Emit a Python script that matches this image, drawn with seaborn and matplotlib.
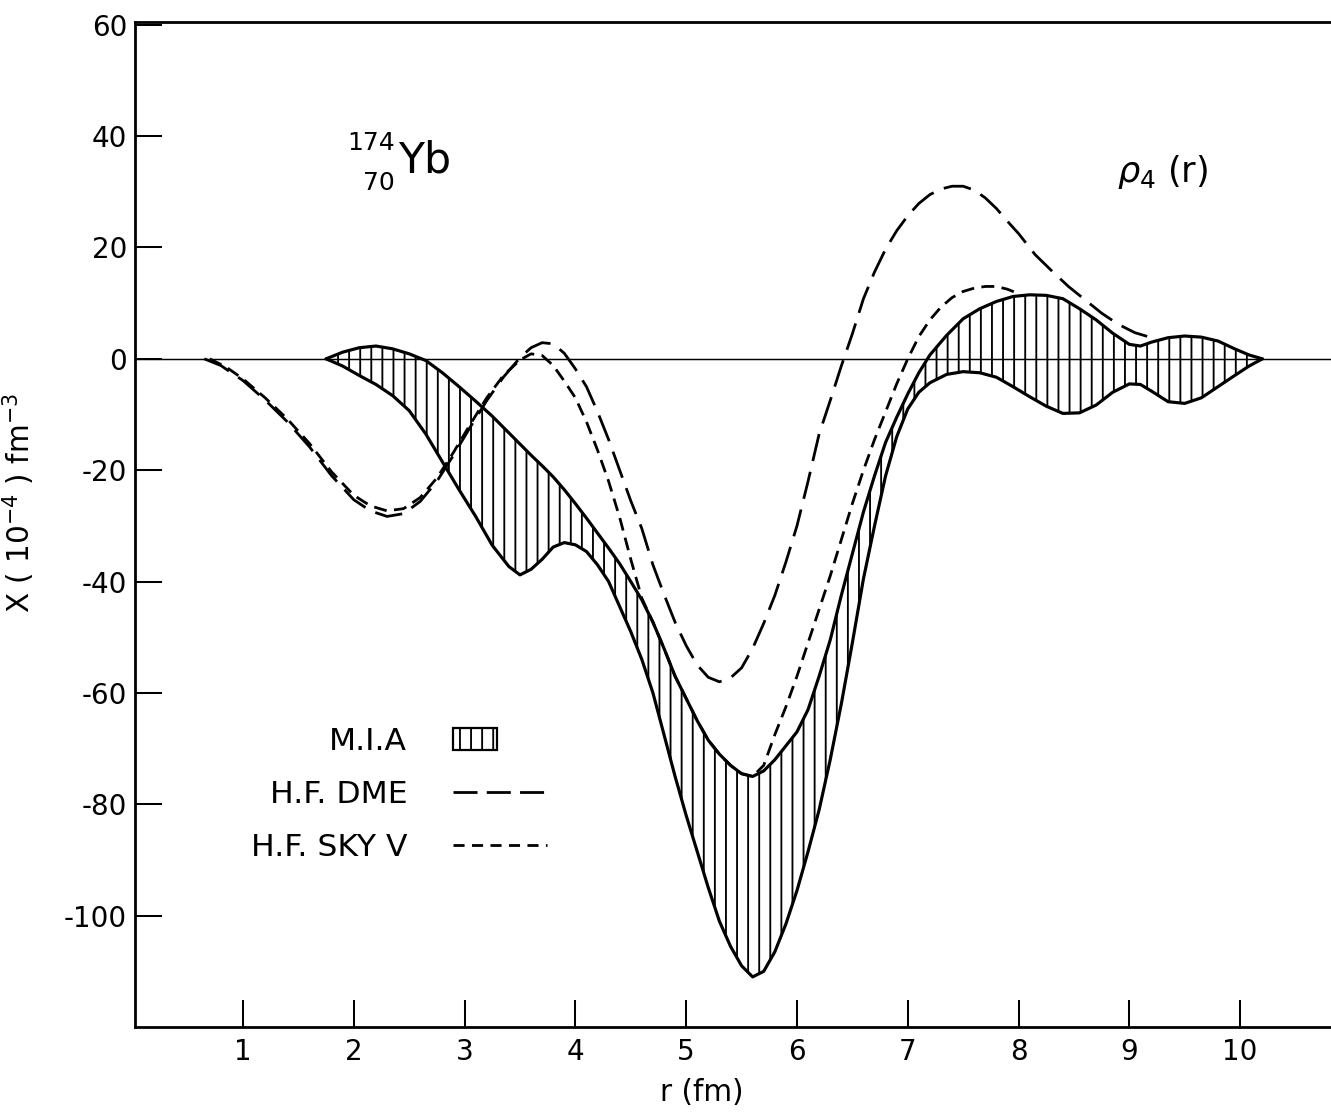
"""
Radial transition density rho_4(r) for 174Yb: M.I.A band vs H.F. DME and H.F. SKY V.
"""

import matplotlib
matplotlib.use("Agg")
import matplotlib.pyplot as plt
import matplotlib.patches as mpatches
from matplotlib.lines import Line2D
from matplotlib.legend_handler import HandlerPatch
import seaborn as sns

# M.I.A band: upper and lower edges on a shared r grid (fm), values in 1e-4 fm^-3
r_mia = [1.75, 1.9, 2.05, 2.2, 2.35, 2.5, 2.65, 2.8, 2.95, 3.1,
         3.25, 3.4, 3.5, 3.6, 3.7, 3.8, 3.9, 4.0, 4.1, 4.2,
         4.3, 4.4, 4.5, 4.6, 4.7, 4.8, 4.9, 5.0, 5.1, 5.2,
         5.3, 5.4, 5.5, 5.6, 5.7, 5.8, 5.9, 6.0, 6.1, 6.2,
         6.3, 6.4, 6.5, 6.6, 6.7, 6.8, 6.9, 7.0, 7.1, 7.2,
         7.35, 7.5, 7.65, 7.8, 7.95, 8.1, 8.25, 8.4, 8.55, 8.7,
         8.85, 9.0, 9.1, 9.2, 9.35, 9.5, 9.65, 9.8, 9.95, 10.08,
         10.2]
mia_upper = [0.0, 1.2, 2.0, 2.3, 1.8, 0.9, -0.3, -2.5, -5.0, -7.6,
             -10.3, -13.3, -15.3, -17.3, -19.2, -21.2, -23.5, -26.0, -28.6, -31.3,
             -34.0, -36.8, -40.0, -43.3, -47.3, -52.0, -57.0, -61.0, -65.0, -68.5,
             -71.0, -73.0, -74.5, -75.0, -74.0, -72.0, -69.5, -67.0, -63.0, -57.0,
             -50.5, -42.5, -35.0, -27.5, -21.0, -15.0, -10.5, -6.3, -2.5, 0.7,
             4.2, 7.2, 9.0, 10.3, 11.2, 11.5, 11.4, 10.8, 9.0, 7.0,
             4.6, 2.6, 2.3, 3.0, 3.8, 4.1, 3.9, 3.2, 1.8, 0.7,
             0.0]
mia_lower = [0.0, -1.3, -3.0, -4.6, -6.6, -9.3, -13.5, -18.5, -23.5, -28.3,
             -33.5, -37.3, -38.8, -37.8, -36.0, -33.8, -33.0, -33.4, -34.6, -37.0,
             -40.0, -44.5, -49.0, -54.0, -60.0, -67.5, -75.0, -82.0, -88.5, -95.0,
             -101.0, -105.5, -109.0, -111.0, -110.0, -106.5, -101.5, -95.5, -88.5, -81.0,
             -72.0, -62.0, -51.0, -39.5, -30.0, -21.0, -14.0, -9.0, -6.0, -4.3,
             -2.8, -2.3, -2.5, -3.3, -5.0, -6.8, -8.5, -9.8, -9.7, -8.3,
             -6.0, -4.5, -4.6, -5.8, -7.7, -8.0, -7.0, -5.0, -3.0, -1.3,
             0.0]

# H.F. DME (long dashes)
r_dme = [0.65, 0.8, 1.0, 1.2, 1.4, 1.6, 1.8, 2.0, 2.15, 2.3,
         2.45, 2.6, 2.75, 2.9, 3.05, 3.2, 3.35, 3.5, 3.6, 3.7,
         3.8, 3.9, 4.0, 4.1, 4.2, 4.3, 4.4, 4.5, 4.6, 4.7,
         4.8, 4.9, 5.0, 5.1, 5.2, 5.3, 5.4, 5.5, 5.6, 5.7,
         5.8, 5.9, 6.0, 6.1, 6.2, 6.3, 6.4, 6.5, 6.6, 6.7,
         6.8, 6.9, 7.0, 7.1, 7.2, 7.3, 7.4, 7.5, 7.6, 7.7,
         7.8, 7.9, 8.0, 8.15, 8.3, 8.45, 8.6, 8.75, 8.9, 9.05,
         9.2]
dme = [0.0, -1.2, -3.9, -7.4, -11.3, -15.8, -21.0, -25.3, -27.3, -28.3,
       -27.8, -25.6, -22.0, -17.3, -12.3, -7.5, -3.3, 0.2, 2.0, 2.9,
       2.7, 1.0, -1.8, -5.0, -9.5, -14.5, -20.0, -25.5, -30.5, -37.0,
       -42.3, -47.3, -51.5, -55.0, -57.2, -58.0, -57.3, -55.5, -52.0, -47.5,
       -42.5, -36.5, -30.0, -22.0, -13.5, -7.5, -1.3, 4.5, 10.8, 15.6,
       19.7, 23.0, 25.7, 27.9, 29.5, 30.5, 31.0, 31.0, 30.3, 28.9,
       27.0, 24.7, 22.5, 18.7, 15.8, 13.0, 10.6, 8.2, 6.2, 4.7,
       3.8]

# H.F. SKY V (short dashes)
r_sky = [0.7, 0.85, 1.0, 1.2, 1.4, 1.6, 1.8, 2.0, 2.15, 2.3,
         2.45, 2.6, 2.75, 2.9, 3.05, 3.2, 3.35, 3.5, 3.6, 3.7,
         3.8, 3.9, 4.0, 4.1, 4.2, 4.3, 4.4, 4.5, 4.6, 4.7,
         4.8, 4.9, 5.0, 5.1, 5.2, 5.3, 5.4, 5.5, 5.6, 5.7,
         5.8, 5.9, 6.0, 6.1, 6.2, 6.3, 6.4, 6.5, 6.6, 6.7,
         6.8, 6.9, 7.0, 7.1, 7.2, 7.3, 7.4, 7.5, 7.6, 7.7,
         7.8, 7.9, 8.0]
sky = [0.0, -1.5, -3.6, -7.0, -10.8, -15.2, -20.3, -24.5, -26.4, -27.3,
       -26.9, -24.9, -21.4, -16.8, -11.8, -7.0, -3.0, -0.2, 0.9, 0.6,
       -1.2, -4.0, -7.0, -11.3, -16.4, -22.0, -28.5, -36.0, -43.0, -47.3,
       -52.0, -57.0, -61.0, -65.0, -68.5, -71.0, -73.0, -74.5, -75.0, -73.0,
       -67.5, -62.5, -57.0, -51.0, -45.0, -39.0, -32.5, -26.0, -20.0, -14.5,
       -9.5, -4.5, 0.0, 4.0, 7.0, 9.3, 11.0, 12.1, 12.7, 13.0,
       13.0, 12.5, 11.7]

x_ticks = [1, 2, 3, 4, 5, 6, 7, 8, 9, 10]
y_ticks = [-100, -80, -60, -40, -20, 0, 20, 40, 60]
legend_labels = ["M.I.A", "H.F. DME", "H.F. SKY Ⅴ"]

DME_DASH = (0, (15, 6))
SKY_DASH = (0, (7, 4))
DPI = 133.1


def mia_key(legend, orig_handle, xdescent, ydescent, width, height, fontsize):
    # short hatched box, like the hand-drawn key
    return mpatches.Rectangle((-xdescent, -ydescent), width * 0.47, height)


def main() -> None:
    sns.set_theme(style="ticks")
    plt.rcParams["font.family"] = ["DejaVu Sans"]
    plt.rcParams["text.color"] = "black"
    plt.rcParams["axes.labelcolor"] = "black"
    plt.rcParams["axes.unicode_minus"] = False
    plt.rcParams["lines.scale_dashes"] = False
    plt.rcParams["hatch.linewidth"] = 1.0

    fig = plt.figure(figsize=(1331 / DPI, 1115 / DPI), dpi=DPI)
    ax = fig.add_axes([0.1014, 0.0789, 0.8986, 0.9014])

    ax.axhline(0, color="black", lw=0.8, zorder=1)
    ax.fill_between(r_mia, mia_lower, mia_upper, facecolor="none",
                    edgecolor="black", hatch="||", linewidth=0, zorder=2)

    line_kw = dict(ax=ax, color="black", estimator=None, sort=False)
    sns.lineplot(x=r_mia, y=mia_upper, lw=1.7, zorder=3, **line_kw)
    sns.lineplot(x=r_mia, y=mia_lower, lw=1.7, zorder=3, **line_kw)
    sns.lineplot(x=r_dme, y=dme, lw=1.5, linestyle=DME_DASH, zorder=4, **line_kw)
    sns.lineplot(x=r_sky, y=sky, lw=1.5, linestyle=SKY_DASH, zorder=4, **line_kw)

    ax.set_xlim(0.025, 10.82)
    ax.set_ylim(-120, 60.5)
    ax.set_xticks(x_ticks)
    ax.set_yticks(y_ticks)
    ax.tick_params(direction="in", length=14.6, width=1.1, labelsize=15,
                   color="black", labelcolor="black")
    ax.tick_params(axis="y", pad=4.3)
    ax.tick_params(axis="x", pad=6)
    ax.spines["right"].set_visible(False)
    for side in ("top", "bottom", "left"):
        ax.spines[side].set_linewidth(1.5)
        ax.spines[side].set_color("black")

    ax.set_xlabel("r (fm)", fontsize=16)
    ax.xaxis.set_label_coords(0.474, -0.0507)
    ax.set_ylabel(r"X ( 10$^{-4}$ ) fm$^{-3}$", fontsize=16)
    ax.yaxis.set_label_coords(-0.082, 0.521)

    # nucleus and quantity labels
    ax.text(2.16, 38.8, "174", fontsize=13.5, ha="center", va="center")
    ax.text(2.23, 31.6, "70", fontsize=13.5, ha="center", va="center")
    ax.text(2.64, 35.7, "Yb", fontsize=23, ha="center", va="center")
    ax.text(9.30, 33.6, r"$\rho_4$ (r)", fontsize=19, ha="center", va="center")

    handles = [
        mpatches.Patch(facecolor="white", edgecolor="black", hatch="||",
                       linewidth=1.2, label=legend_labels[0]),
        Line2D([], [], color="black", lw=1.5, linestyle=(0, (13, 5)),
               label=legend_labels[1]),
        Line2D([], [], color="black", lw=1.5, linestyle=(0, (6, 4)),
               label=legend_labels[2]),
    ]
    ax.legend(handles=handles, loc="upper right", bbox_to_anchor=(0.3445, 0.2985),
              frameon=False, markerfirst=False, fontsize=17, handlelength=3.0,
              handletextpad=1.45, labelspacing=0.76, borderpad=0, borderaxespad=0,
              handler_map={mpatches.Patch: HandlerPatch(patch_func=mia_key)})

    fig.savefig("out.png", dpi=DPI)
    plt.close(fig)


if __name__ == "__main__":
    main()
